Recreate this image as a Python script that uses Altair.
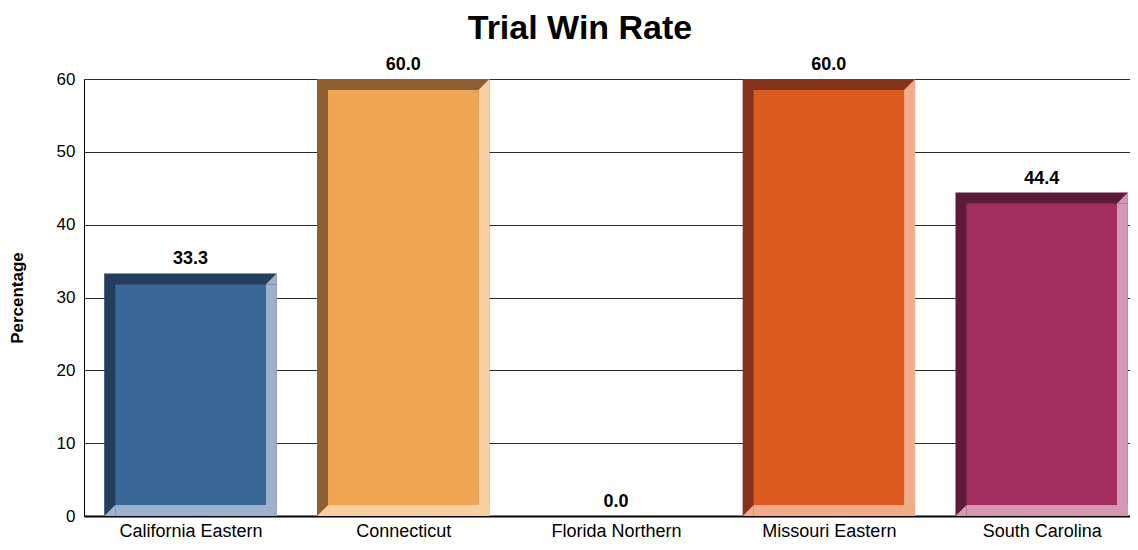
import altair as alt
import pandas as pd

title_text = ["Trial Win Rate"]
categories = ["California Eastern", "Connecticut", "Florida Northern", "Missouri Eastern", "South Carolina"]
win_rate = [33.3, 60.0, 0.0, 60.0, 44.4]

face_colors = ["#3B6798", "#F0A555", "#C0C0C0", "#DD5A20", "#A22D60"]
dark_colors = ["#233D5C", "#8C5E30", "#808080", "#86321A", "#5E1A3A"]
light_colors = ["#9CB1CC", "#F8CFA3", "#E0E0E0", "#F0AD8C", "#D398B2"]

HALF = 0.405
BEV = 11
PLOT_W = 1046
PLOT_H = 437

df = pd.DataFrame({
    "cat": categories,
    "idx": list(range(len(categories))),
    "value": win_rate,
})
df["left"] = df["idx"] - HALF
df["right"] = df["idx"] + HALF
df["zero"] = 0.0

label_expr = "[" + ",".join(f"'{c}'" for c in categories) + "][datum.value]"

xscale = alt.Scale(domain=[-0.5, 4.415], nice=False, zero=False)
yscale = alt.Scale(domain=[0, 60], nice=False)

def cscale(rng):
    return alt.Color("cat:N", scale=alt.Scale(domain=categories, range=rng), legend=None)

base = alt.Chart(df)
bars = base.transform_filter("datum.value > 0")

xaxis = alt.Axis(values=[0, 1, 2, 3, 4], labelExpr=label_expr, title=None, grid=False,
                 ticks=False, domainColor="#000000", domainWidth=2, labelFontSize=18,
                 labelPadding=6, labelColor="#000000", labelFont="Liberation Sans")
yaxis = alt.Axis(values=[0, 10, 20, 30, 40, 50, 60], title="Percentage", grid=True,
                 gridColor="#2a2a2a", gridWidth=1, ticks=False, domainColor="#000000",
                 labelFontSize=17, labelPadding=9, labelColor="#000000",
                 labelFont="Liberation Sans", titleFont="Liberation Sans",
                 titleFontSize=17, titleFontWeight="bold", titleColor="#000000",
                 titleX=-58, titleY=PLOT_H / 2, titleAngle=-90, titleAlign="center",
                 titleBaseline="bottom")

dark = bars.mark_rect().encode(
    x=alt.X("left:Q", scale=xscale, axis=xaxis),
    x2="right:Q",
    y=alt.Y("value:Q", scale=yscale, axis=yaxis),
    y2="zero:Q",
    color=cscale(dark_colors),
)

light_right = bars.mark_rect(xOffset=-BEV, yOffset=BEV).encode(
    x=alt.X("right:Q", scale=xscale),
    x2="right:Q",
    y=alt.Y("value:Q", scale=yscale),
    y2="zero:Q",
    color=cscale(light_colors),
)

light_bottom = bars.mark_rect(xOffset=BEV, y2Offset=-BEV).encode(
    x=alt.X("left:Q", scale=xscale),
    x2="right:Q",
    y=alt.Y("zero:Q", scale=yscale),
    y2="zero:Q",
    color=cscale(light_colors),
)

tri_path = "M-1,1L1,1L1,-1Z"

tri_top = bars.mark_point(shape=tri_path, size=BEV * BEV, filled=True, opacity=1,
                          strokeWidth=0, xOffset=-BEV / 2, yOffset=BEV / 2).encode(
    x=alt.X("right:Q", scale=xscale),
    y=alt.Y("value:Q", scale=yscale),
    color=cscale(light_colors),
)

tri_bottom = bars.mark_point(shape=tri_path, size=BEV * BEV, filled=True, opacity=1,
                             strokeWidth=0, xOffset=BEV / 2, yOffset=-BEV / 2).encode(
    x=alt.X("left:Q", scale=xscale),
    y=alt.Y("zero:Q", scale=yscale),
    color=cscale(light_colors),
)

face = bars.mark_rect(xOffset=BEV, x2Offset=-BEV, yOffset=BEV, y2Offset=-BEV).encode(
    x=alt.X("left:Q", scale=xscale),
    x2="right:Q",
    y=alt.Y("value:Q", scale=yscale),
    y2="zero:Q",
    color=cscale(face_colors),
)

labels = base.mark_text(dy=-14, fontSize=18, fontWeight="bold", font="Liberation Sans",
                        color="#000000", baseline="middle").encode(
    x=alt.X("idx:Q", scale=xscale),
    y=alt.Y("value:Q", scale=yscale),
    text=alt.Text("value:Q", format=".1f"),
)

title = alt.Chart(pd.DataFrame({"t": title_text})).mark_text(
    fontSize=34, fontWeight="bold", font="Liberation Sans", color="#000000",
    align="center", baseline="alphabetic",
).encode(
    x=alt.value(496),
    y=alt.value(-40),
    text="t:N",
)

chart = alt.layer(dark, light_right, light_bottom, tri_top, tri_bottom, face, labels, title).resolve_scale(
    color="independent"
).properties(
    width=PLOT_W,
    height=PLOT_H,
    padding={"left": 76, "top": 71, "right": 0, "bottom": 26},
    autosize=alt.AutoSizeParams(type="none"),
).configure_view(stroke=None).configure(background="#ffffff")

chart.save("out.html", embed_options={"renderer": "svg", "actions": False})
